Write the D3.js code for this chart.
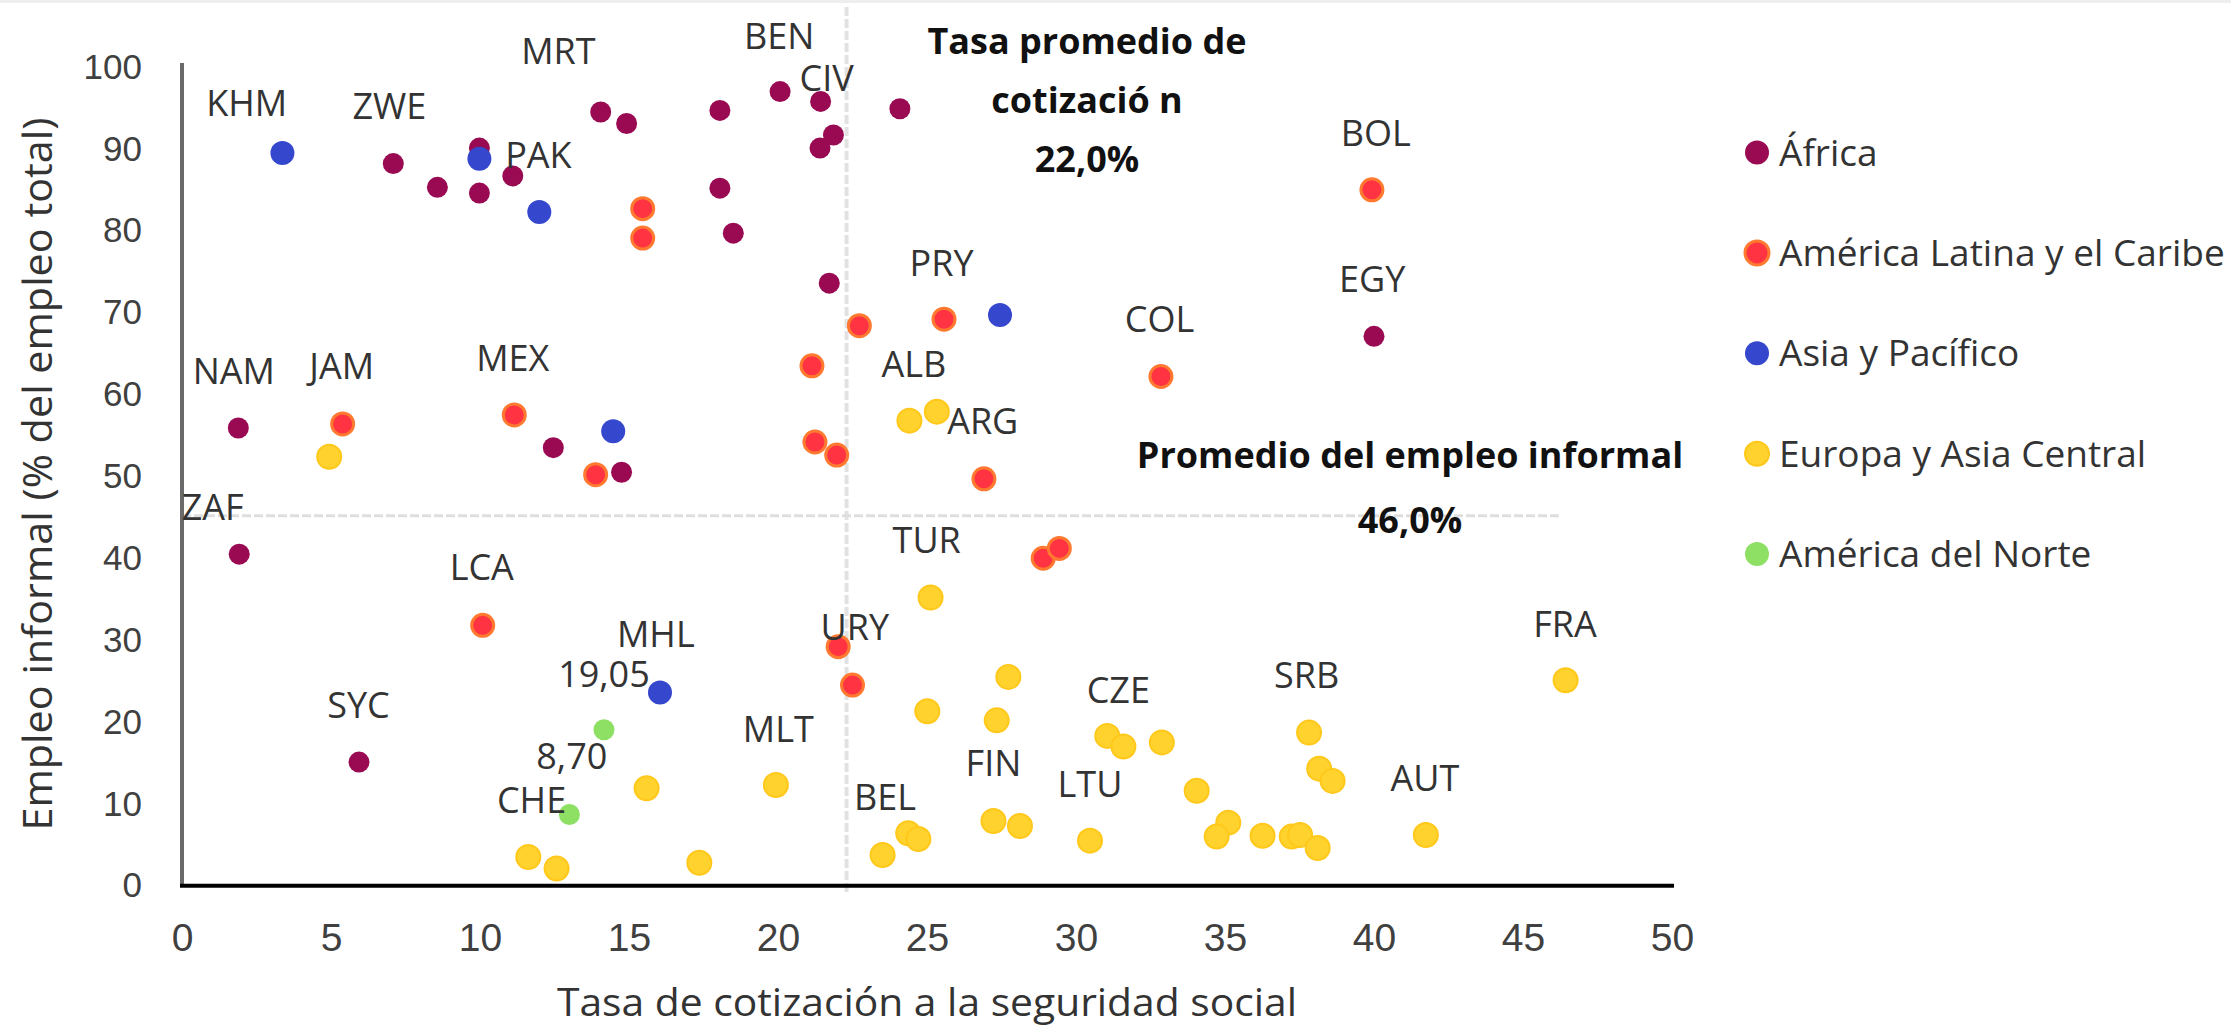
<!DOCTYPE html>
<html>
<head>
<meta charset="utf-8">
<script src="https://cdn.jsdelivr.net/npm/d3@7"></script>
<style>
  body { margin: 0; background: #fff; }
  svg { display: block; font-family: "Open Sans", "Liberation Sans", sans-serif; }
</style>
</head>
<body>
<div id="chart"></div>
<script>
// values: [tasa de cotización, empleo informal]
const africa = [
  [1.89, 55.9], [1.92, 40.5], [5.94, 15.1], [7.09, 88.2], [8.57, 85.3], [9.98, 90.1],
  [9.98, 84.6], [11.1, 86.7], [14.05, 94.5], [14.92, 93.1], [12.46, 53.5], [14.75, 50.5],
  [18.05, 94.7], [20.07, 97.0], [21.43, 95.8], [24.09, 94.9], [21.86, 91.7], [21.41, 90.1],
  [18.05, 85.2], [18.5, 79.7], [21.72, 73.6], [40.0, 67.1]
];
const latam = [
  [15.46, 82.7], [15.46, 79.1], [5.39, 56.4], [11.15, 57.5], [13.88, 50.2], [22.73, 68.4],
  [25.57, 69.2], [21.14, 63.5], [32.85, 62.2], [21.24, 54.2], [21.97, 52.6], [26.91, 49.7],
  [39.93, 85.0], [10.09, 31.8], [28.9, 40.0], [29.44, 41.2], [22.02, 29.2], [22.5, 24.5]
];
const asia = [[3.37, 89.5], [9.98, 88.8], [11.99, 82.3], [14.47, 55.5], [27.45, 69.7], [16.04, 23.6]];
const europe = [
  [4.94, 52.4], [24.41, 56.8], [25.33, 57.9], [15.59, 11.9], [11.62, 3.5], [12.57, 2.1],
  [25.12, 35.2], [27.73, 25.5], [25.01, 21.3], [27.34, 20.2], [19.93, 12.3], [17.36, 2.8],
  [23.51, 3.75], [24.37, 6.4], [24.71, 5.7], [27.23, 7.9], [28.12, 7.3], [30.47, 5.5],
  [31.05, 18.3], [31.59, 17.0], [32.88, 17.5], [34.05, 11.6], [35.11, 7.7], [34.72, 6.0],
  [36.26, 6.1], [37.24, 6.0], [37.52, 6.2], [38.11, 4.6], [37.82, 18.7], [38.16, 14.3],
  [38.61, 12.8], [41.74, 6.2], [46.43, 25.1]
];
const northAmerica = [[14.16, 19.05], [13.0, 8.7]];

const seriesNames = ["África", "América Latina y el Caribe", "Asia y Pacífico", "Europa y Asia Central", "América del Norte"];

// data labels: text and where it sits, in data units
const pointLabels = [
  ["KHM", 2.17, 95.6], ["ZWE", 6.96, 95.2], ["MRT", 12.63, 101.9], ["PAK", 11.96, 89.25],
  ["NAM", 1.74, 62.9], ["JAM", 5.36, 63.5], ["MEX", 11.1, 64.5], ["BEN", 20.04, 103.8],
  ["CIV", 21.63, 98.7], ["PRY", 25.49, 76.0], ["ALB", 24.56, 63.7], ["ARG", 26.87, 56.8],
  ["COL", 32.8, 69.2], ["BOL", 40.06, 91.9], ["EGY", 39.94, 74.1], ["ZAF", 1.03, 46.2],
  ["LCA", 10.06, 38.9], ["MHL", 15.9, 30.7], ["19,05", 14.16, 25.9], ["SYC", 5.92, 22.1],
  ["8,70", 13.08, 15.8], ["CHE", 11.73, 10.5], ["TUR", 24.99, 42.2], ["URY", 22.58, 31.6],
  ["MLT", 20.01, 19.2], ["BEL", 23.59, 10.8], ["FIN", 27.23, 15.0], ["LTU", 30.47, 12.4],
  ["CZE", 31.42, 23.9], ["SRB", 37.74, 25.7], ["AUT", 41.71, 13.1], ["FRA", 46.41, 32.0]
];

const xTicks = [0, 5, 10, 15, 20, 25, 30, 35, 40, 45, 50];
const yTicks = [0, 10, 20, 30, 40, 50, 60, 70, 80, 90, 100];

// average lines as drawn, and their captions
const avgRate = 22.3;
const avgInformal = 45.2;
const avgRateText = ["Tasa promedio de", "cotizació n", "22,0%"];
const avgInformalText = ["Promedio del empleo informal", "46,0%"];

const W = 2231, H = 1028;
const styles = [
  { fill: "#990a52", stroke: "none", r: 10.5 },
  { fill: "#ff3341", stroke: "#ff7a30", r: 11, sw: 3 },
  { fill: "#3547cc", stroke: "none", r: 12 },
  { fill: "#ffd22e", stroke: "#ffc81a", r: 12, sw: 2 },
  { fill: "#8ee065", stroke: "none", r: 10.5 }
];

const svg = d3.select("#chart").append("svg")
  .attr("width", W)
  .attr("height", H);

svg.append("rect").attr("width", W).attr("height", H).attr("fill", "#fff");
svg.append("rect").attr("width", W).attr("height", 3).attr("fill", "#eeeeee");

const x = d3.scaleLinear().domain([0, 50]).range([182, 1672]);
const y = d3.scaleLinear().domain([0, 100]).range([885.7, 67]);

// reference lines
svg.append("line")
  .attr("x1", x(avgRate)).attr("x2", x(avgRate))
  .attr("y1", 7).attr("y2", y(0) + 8)
  .attr("stroke", "#e2e2e2").attr("stroke-width", 4)
  .attr("stroke-dasharray", "9,3");
svg.append("line")
  .attr("x1", x(0)).attr("x2", x(46.2))
  .attr("y1", y(avgInformal)).attr("y2", y(avgInformal))
  .attr("stroke", "#dedede").attr("stroke-width", 3)
  .attr("stroke-dasharray", "9,3");

// axes
const yAxis = svg.append("g")
  .attr("transform", `translate(${x(0)},0)`)
  .call(d3.axisLeft(y).tickValues(yTicks).tickSize(0).tickPadding(40));
yAxis.select(".domain").remove();
yAxis.selectAll("text")
  .attr("font-family", "Liberation Sans, Arial, sans-serif")
  .attr("font-size", 35).attr("fill", "#404040");

const xAxis = svg.append("g")
  .attr("transform", `translate(0,${y(0)})`)
  .call(d3.axisBottom(x).tickValues(xTicks).tickSize(0).tickPadding(38));
xAxis.select(".domain").remove();
xAxis.selectAll("text")
  .attr("font-family", "Liberation Sans, Arial, sans-serif")
  .attr("font-size", 39).attr("fill", "#404040");

svg.append("line")
  .attr("x1", x(0)).attr("x2", x(0))
  .attr("y1", y(100) - 4).attr("y2", y(0))
  .attr("stroke", "#6a6a6a").attr("stroke-width", 4);
svg.append("line")
  .attr("x1", x(0) - 2).attr("x2", x(50) + 2)
  .attr("y1", y(0)).attr("y2", y(0))
  .attr("stroke", "#000").attr("stroke-width", 4);

// axis titles
svg.append("text")
  .attr("x", (x(0) + x(50)) / 2).attr("y", 1016)
  .attr("text-anchor", "middle")
  .attr("font-size", 38).attr("fill", "#333")
  .attr("textLength", 740).attr("lengthAdjust", "spacingAndGlyphs")
  .text("Tasa de cotización a la seguridad social");

svg.append("text")
  .attr("transform", "translate(52,474) rotate(-90)")
  .attr("text-anchor", "middle")
  .attr("font-size", 40).attr("fill", "#333")
  .attr("textLength", 713).attr("lengthAdjust", "spacingAndGlyphs")
  .text("Empleo informal (% del empleo total)");

// points
const allSeries = [africa, latam, asia, europe, northAmerica];
allSeries.forEach((pts, i) => {
  const s = styles[i];
  svg.append("g")
    .selectAll("circle")
    .data(pts)
    .join("circle")
    .attr("cx", d => x(d[0]))
    .attr("cy", d => y(d[1]))
    .attr("r", s.r)
    .attr("fill", s.fill)
    .attr("stroke", s.stroke)
    .attr("stroke-width", s.sw || 0);
});

// point labels
svg.append("g")
  .selectAll("text")
  .data(pointLabels)
  .join("text")
  .attr("x", d => x(d[1]))
  .attr("y", d => y(d[2]) + 13)
  .attr("text-anchor", "middle")
  .attr("font-size", 36)
  .attr("fill", "#333")
  .text(d => d[0]);

// average captions
svg.append("g")
  .selectAll("text")
  .data(avgRateText)
  .join("text")
  .attr("x", 1087)
  .attr("y", (d, i) => 54 + i * 59)
  .attr("text-anchor", "middle")
  .attr("font-size", 36).attr("font-weight", "bold").attr("fill", "#111")
  .text(d => d);

svg.append("g")
  .selectAll("text")
  .data(avgInformalText)
  .join("text")
  .attr("x", 1410)
  .attr("y", (d, i) => 468 + i * 65)
  .attr("text-anchor", "middle")
  .attr("font-size", 36).attr("font-weight", "bold").attr("fill", "#111")
  .text(d => d);

// legend
const legend = svg.append("g")
  .selectAll("g")
  .data(seriesNames)
  .join("g")
  .attr("transform", (d, i) => `translate(1757,${152.5 + i * 100.4})`);
legend.append("circle")
  .attr("r", 12)
  .attr("fill", (d, i) => styles[i].fill)
  .attr("stroke", (d, i) => styles[i].stroke)
  .attr("stroke-width", (d, i) => styles[i].sw || 0);
legend.append("text")
  .attr("x", 22).attr("y", 13)
  .attr("font-size", 37).attr("fill", "#333")
  .text(d => d);
</script>
</body>
</html>
